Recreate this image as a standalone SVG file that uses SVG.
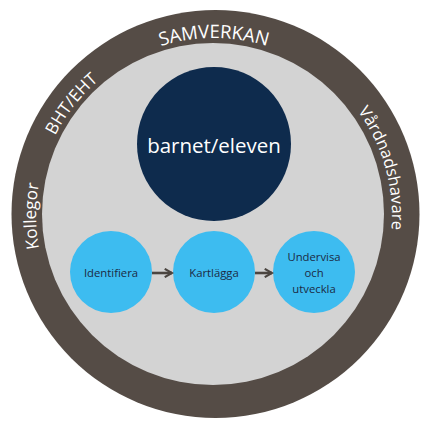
<svg xmlns="http://www.w3.org/2000/svg" width="428" height="430" viewBox="0 0 428 430">
  <style>
    .ring { fill: #554c46; }
    .field { fill: #d3d3d3; }
    .core { fill: #0e2b4d; }
    .step { fill: #3dbcf0; }
    .arc-label { font-family: "Open Sans", "Liberation Sans", sans-serif; fill: #ffffff; text-anchor: middle; }
    .core-label { font-family: "Open Sans", "Liberation Sans", sans-serif; fill: #ffffff; font-size: 20.5px; text-anchor: middle; }
    .step-label { font-family: "Open Sans", "Liberation Sans", sans-serif; fill: #1b2a44; font-size: 11.3px; text-anchor: middle; }
    .arrow { stroke: #4b4540; stroke-width: 2.6; fill: none; }
  </style>
  <defs>
    <path id="labelArc" d="M 214,394 A 178 178 0 1 1 214,38 A 178 178 0 1 1 214,394"/>
    <marker id="head" viewBox="0 0 10 10" refX="8" refY="5" markerWidth="4" markerHeight="4" orient="auto" markerUnits="strokeWidth">
      <path d="M 1,1 L 8,5 L 1,9" fill="none" stroke="#4b4540" stroke-width="2"/>
    </marker>
  </defs>
  <rect width="428" height="430" fill="#ffffff"/>

  <g id="samverkan-ring">
    <circle class="ring" cx="215.5" cy="214" r="204"/>
    <circle class="field" cx="213" cy="214" r="171"/>
    <text class="arc-label" font-size="17"><textPath href="#labelArc" startOffset="25%">Kollegor</textPath></text>
    <text class="arc-label" font-size="17"><textPath href="#labelArc" startOffset="35.6%">BHT/EHT</textPath></text>
    <text class="arc-label" font-size="18.5"><textPath href="#labelArc" startOffset="50%">SAMVERKAN</textPath></text>
    <text class="arc-label" font-size="16.5"><textPath href="#labelArc" startOffset="70.6%">Vårdnadshavare</textPath></text>
  </g>

  <g id="barnet-eleven">
    <circle class="core" cx="214" cy="144" r="77"/>
    <text class="core-label" x="214" y="153">barnet/eleven</text>
  </g>

  <g id="identifiera">
    <circle class="step" cx="111" cy="272" r="41"/>
    <text class="step-label" x="111" y="277">Identifiera</text>
  </g>

  <g id="kartlagga">
    <circle class="step" cx="214" cy="272" r="41"/>
    <text class="step-label" x="214" y="277">Kartlägga</text>
  </g>

  <g id="undervisa">
    <circle class="step" cx="314" cy="272" r="41"/>
    <text class="step-label" x="314" y="261">Undervisa</text>
    <text class="step-label" x="314" y="277">och</text>
    <text class="step-label" x="314" y="293">utveckla</text>
  </g>

  <g id="connectors">
    <line class="arrow" x1="152" y1="273" x2="172" y2="273" marker-end="url(#head)"/>
    <line class="arrow" x1="255" y1="273" x2="272" y2="273" marker-end="url(#head)"/>
  </g>
</svg>
